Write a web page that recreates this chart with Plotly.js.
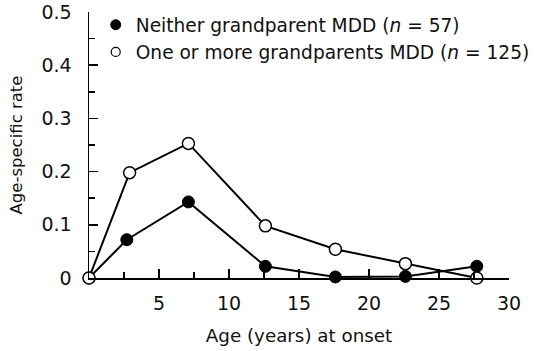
<!DOCTYPE html>
<html>
<head>
<meta charset="utf-8">
<script src="https://cdn.plot.ly/plotly-3.0.1.min.js"></script>
<style>
  html, body { margin: 0; padding: 0; background: #fff; }
  #chart { width: 536px; height: 351px; }
</style>
</head>
<body>
<div id="chart"></div>
<script>
// Age-specific rate of onset by age, split by grandparental MDD status
const ageNeither = [0, 2.7, 7.1, 12.6, 17.6, 22.6, 27.7];
const rateNeither = [0, 0.072, 0.143, 0.022, 0.002, 0.003, 0.022];

const ageOneOrMore = [0, 2.9, 7.1, 12.6, 17.6, 22.6, 27.7];
const rateOneOrMore = [0, 0.198, 0.253, 0.098, 0.054, 0.027, 0];

const nameNeither = 'Neither grandparent MDD (<i>n</i> = 57)';
const nameOneOrMore = 'One or more grandparents MDD (<i>n</i> = 125)';

const xTickVals = [5, 10, 15, 20, 25, 30];
const yTickVals = [0, 0.1, 0.2, 0.3, 0.4, 0.5];
const yTickText = ['0', '0.1', '0.2', '0.3', '0.4', '0.5'];

const FONT = '"DejaVu Sans", sans-serif';
const INK = '#111';

const traces = [
  {
    x: ageNeither, y: rateNeither, mode: 'lines+markers', showlegend: false,
    line: { color: '#000', width: 2 },
    marker: { symbol: 'circle', size: 12, color: '#000', line: { color: '#000', width: 1 } },
    cliponaxis: false, hoverinfo: 'skip'
  },
  {
    x: ageOneOrMore, y: rateOneOrMore, mode: 'lines+markers', showlegend: false,
    line: { color: '#000', width: 2 },
    marker: { symbol: 'circle', size: 12, color: '#fff', line: { color: '#000', width: 1.5 } },
    cliponaxis: false, hoverinfo: 'skip'
  },
  // legend-only entries (markers without line segments)
  {
    x: [null], y: [null], mode: 'markers', name: nameNeither, legendgroup: 'a',
    marker: { symbol: 'circle', size: 10, color: '#000', line: { color: '#000', width: 1 } }
  },
  {
    x: [null], y: [null], mode: 'markers', name: nameOneOrMore, legendgroup: 'b',
    marker: { symbol: 'circle', size: 9, color: '#fff', line: { color: '#000', width: 1.2 } }
  }
];

const layout = {
  width: 536, height: 351,
  margin: { l: 88.5, r: 26.7, t: 11.7, b: 72.7, pad: 0, autoexpand: false },
  paper_bgcolor: '#fff', plot_bgcolor: '#fff',
  font: { family: FONT, size: 18.6, color: INK },
  showlegend: true,
  legend: {
    x: 0.016, y: 1.022, xanchor: 'left', yanchor: 'top',
    bgcolor: 'rgba(0,0,0,0)', borderwidth: 0,
    font: { family: FONT, size: 18.6, color: INK },
    traceorder: 'grouped', tracegroupgap: 0,
    itemsizing: 'trace'
  },
  xaxis: {
    range: [0, 30], showgrid: false, zeroline: false, automargin: false,
    showline: true, linecolor: '#000', linewidth: 1.5,
    ticks: 'inside', ticklen: 9, tickwidth: 1.5, tickcolor: '#000',
    tickvals: xTickVals, ticklabelstandoff: 8, tickangle: 0,
    minor: { dtick: 2.5, tick0: 0, ticks: 'inside', ticklen: 6, tickwidth: 1.5, tickcolor: '#000', showgrid: false },
    title: { text: 'Age (years) at onset', font: { family: FONT, size: 18.3, color: INK }, standoff: 16 },
    tickfont: { family: FONT, size: 19, color: INK }
  },
  yaxis: {
    range: [0, 0.5], showgrid: false, zeroline: false, automargin: false,
    showline: true, linecolor: '#000', linewidth: 1.5,
    ticks: 'inside', ticklen: 9, tickwidth: 1.5, tickcolor: '#000',
    tickvals: yTickVals, ticktext: yTickText, ticklabelstandoff: 12,
    minor: { dtick: 0.05, tick0: 0, ticks: 'inside', ticklen: 6, tickwidth: 1.5, tickcolor: '#000', showgrid: false },
    title: { text: 'Age-specific rate', font: { family: FONT, size: 16.5, color: INK }, standoff: 14 },
    tickfont: { family: FONT, size: 19, color: INK }
  }
};

Plotly.newPlot('chart', traces, layout, { staticPlot: true, displayModeBar: false });
</script>
</body>
</html>
